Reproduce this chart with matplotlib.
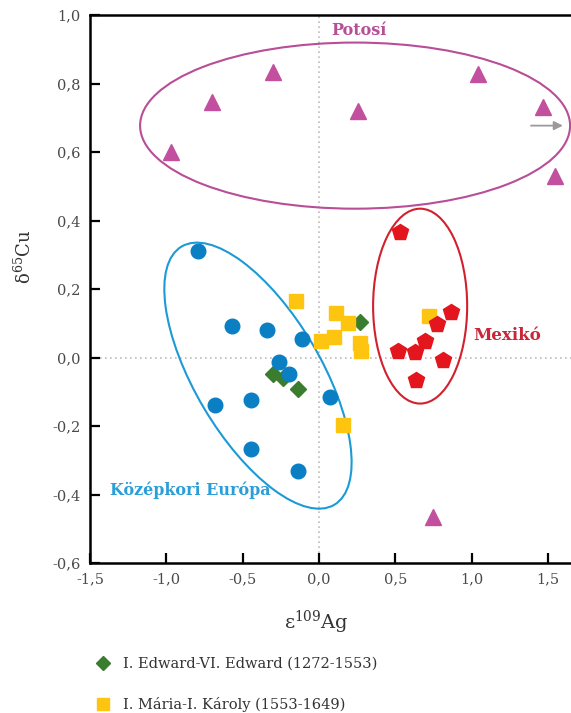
"""Ag-Cu isotope scatter: Potosí, Mexikó and medieval European silver vs. English coins."""
import matplotlib

matplotlib.use("Agg")
import matplotlib.pyplot as plt
from matplotlib import transforms
from matplotlib.lines import Line2D
from matplotlib.patches import Ellipse

plt.rcParams["font.family"] = ["DejaVu Serif"]
plt.rcParams["mathtext.fontset"] = "dejavuserif"

# --- data (ε109Ag, δ65Cu) ---
potosi_x = [-0.97, -0.70, -0.30, 0.255, 1.04, 1.467, 1.545, 0.747]
potosi_y = [0.599, 0.745, 0.835, 0.721, 0.829, 0.730, 0.531, -0.467]

europe_x = [-0.792, -0.570, -0.341, -0.111, -0.262, -0.196, -0.681, -0.445, -0.445, -0.138, 0.072]
europe_y = [0.312, 0.091, 0.079, 0.053, -0.012, -0.047, -0.140, -0.123, -0.266, -0.330, -0.114]

edward_x = [-0.301, -0.236, -0.138, 0.268]
edward_y = [-0.047, -0.061, -0.091, 0.105]

maria_x = [-0.151, 0.111, 0.190, 0.098, 0.013, 0.268, 0.275, 0.720, 0.157]
maria_y = [0.166, 0.131, 0.102, 0.061, 0.047, 0.041, 0.020, 0.120, -0.196]

mexico_x = [0.530, 0.864, 0.773, 0.694, 0.517, 0.629, 0.812, 0.635]
mexico_y = [0.365, 0.134, 0.099, 0.047, 0.018, 0.015, -0.006, -0.067]

x_ticks = [-1.5, -1.0, -0.5, 0.0, 0.5, 1.0, 1.5]
y_ticks = [-0.6, -0.4, -0.2, 0.0, 0.2, 0.4, 0.6, 0.8, 1.0]

legend_labels = ["I. Edward-VI. Edward (1272-1553)", "I. Mária-I. Károly (1553-1649)"]

C_POTOSI = "#c2509e"
C_EUROPE = "#0b7fc4"
C_EDWARD = "#3a7d2e"
C_MARIA = "#fdc510"
C_MEXICO = "#e3151d"

fig = plt.figure(figsize=(5.71, 7.13), dpi=100)
ax = fig.add_axes([90 / 571, 1 - 563 / 713, 481 / 571, 548 / 713])
ax.set_xlim(-1.5, 1.65)
ax.set_ylim(-0.6, 1.0)

ax.axvline(0, color="#bbbbbb", ls=(0, (1, 2)), lw=1.2, zorder=0)
ax.axhline(0, color="#bbbbbb", ls=(0, (1, 2)), lw=1.2, zorder=0)

# group envelopes
ax.add_patch(Ellipse((0.236, 0.677), 2.816, 0.485, fill=False, ec="#b84d98", lw=1.5, zorder=1))
ax.add_patch(Ellipse((0.662, 0.150), 0.616, 0.569, fill=False, ec="#d1202e", lw=1.5, zorder=1))
# tilted one is sized in inches around its data centre so the angle stays true on screen
blue_tr = fig.dpi_scale_trans + transforms.ScaledTranslation(-0.40, -0.053, ax.transData)
ax.add_patch(Ellipse((0, 0), 3.00, 1.26, angle=-59.4, fill=False, ec="#1c9ad6", lw=1.5,
                     transform=blue_tr, zorder=1))

ax.annotate("", xy=(1.615, 0.677), xytext=(1.37, 0.677),
            arrowprops=dict(arrowstyle="-|>", color="#9a9a9a", lw=1.3, mutation_scale=13))

ax.plot(potosi_x, potosi_y, ls="none", marker="^", ms=11, color=C_POTOSI, zorder=3)
ax.plot(edward_x, edward_y, ls="none", marker="D", ms=8, color=C_EDWARD, zorder=3)
ax.plot(europe_x, europe_y, ls="none", marker="o", ms=10.5, color=C_EUROPE, zorder=3)
ax.plot(maria_x, maria_y, ls="none", marker="s", ms=9.5, color=C_MARIA, zorder=3)
ax.plot(mexico_x, mexico_y, ls="none", marker="p", ms=12, color=C_MEXICO, zorder=3)

ax.text(0.262, 0.955, "Potosí", color="#b84d98", fontsize=11.5, fontweight="bold",
        ha="center", va="center")
ax.text(1.008, 0.064, "Mexikó", color="#c9263a", fontsize=12, fontweight="bold",
        ha="left", va="center")
ax.text(-1.369, -0.388, "Középkori Európa", color="#2a9ed8", fontsize=11.5, fontweight="bold",
        ha="left", va="center")

ax.set_xticks(x_ticks)
ax.set_xticklabels([f"{t:.1f}".replace(".", ",") for t in x_ticks])
ax.set_yticks(y_ticks)
ax.set_yticklabels([f"{t:.1f}".replace(".", ",") for t in y_ticks])
ax.tick_params(direction="in", length=7, width=1.6, labelsize=10.5, labelcolor="#4a4a4a", pad=7)

for side in ("left", "top", "bottom"):
    ax.spines[side].set_linewidth(1.8)
ax.spines["right"].set_visible(False)

ax.set_xlabel("ε$^{109}$Ag", fontsize=14, color="#333333")
ax.xaxis.set_label_coords(0.47, -0.084)
ax.set_ylabel("δ$^{65}$Cu", fontsize=13, color="#333333")
ax.yaxis.set_label_coords(-0.114, 0.558)

handles = [
    Line2D([], [], ls="none", marker="D", ms=7.5, color=C_EDWARD),
    Line2D([], [], ls="none", marker="s", ms=8, color=C_MARIA),
]
fig.legend(handles, legend_labels, loc="upper left", bbox_to_anchor=(96 / 571, 1 - 657 / 713),
           frameon=False, fontsize=10.5, handlelength=1.0, handletextpad=0.85,
           labelspacing=1.8, borderpad=0, borderaxespad=0, labelcolor="#333333")

fig.savefig("out.png", dpi=100)
